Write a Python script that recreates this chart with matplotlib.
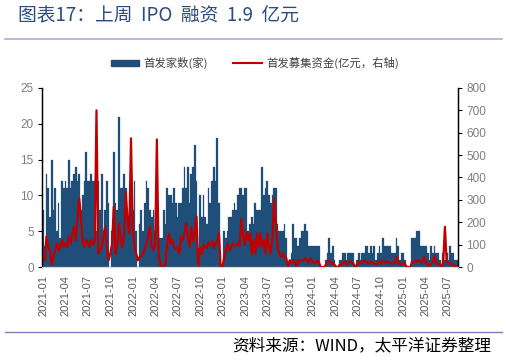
import numpy as np
import pandas as pd
import matplotlib
matplotlib.use('Agg')
import matplotlib.pyplot as plt
from matplotlib.lines import Line2D
from matplotlib.patches import Patch

plt.rcParams['font.family'] = ['Noto Sans CJK SC', 'DejaVu Sans']

# weekly data, first week 2021-01-01
start = pd.Timestamp('2021-01-01')

# number of IPOs per week (家)
ipo_count = [
    8, 3, 13, 11, 7, 15, 8, 11, 5, 9, 4, 12, 11,
    12, 11, 15, 11, 12, 13, 14, 12, 13, 8, 10, 12, 16,
    12, 12, 13, 12, 12, 5, 12, 8, 13, 5, 8, 12, 9,
    0, 5, 16, 9, 8, 21, 11, 11, 13, 11, 8, 5, 12,
    8, 12, 5, 0, 6, 8, 5, 9, 12, 11, 8, 7, 8,
    5, 8, 3, 4, 4, 8, 6, 11, 10, 10, 9, 11, 9,
    7, 9, 9, 11, 14, 11, 14, 9, 13, 14, 17, 12, 0,
    10, 7, 10, 7, 6, 11, 9, 12, 14, 12, 18, 9, 0,
    0, 5, 4, 5, 7, 7, 8, 9, 8, 10, 11, 11, 10,
    11, 11, 5, 6, 7, 6, 9, 8, 8, 8, 14, 10, 11,
    12, 10, 9, 10, 11, 11, 6, 5, 5, 5, 6, 4, 0,
    1, 2, 6, 4, 4, 3, 4, 5, 5, 6, 5, 3, 3,
    3, 3, 3, 3, 3, 0, 0, 0, 1, 2, 4, 2, 3,
    1, 0, 0, 1, 1, 2, 2, 1, 2, 2, 2, 2, 0,
    1, 2, 1, 2, 2, 3, 3, 2, 3, 2, 3, 1, 2,
    3, 2, 4, 3, 3, 3, 3, 2, 2, 2, 4, 3, 1,
    2, 2, 1, 0, 0, 0, 4, 4, 4, 5, 5, 3, 3,
    3, 3, 2, 1, 3, 2, 3, 2, 2, 1, 0, 2, 1,
    2, 1, 3, 2, 2, 1, 1,
]

# funds raised per week (亿元)
ipo_funds = [
    45, 30, 135, 90, 75, 10, 45, 75, 105, 75, 90, 120, 90,
    105, 90, 135, 105, 150, 180, 120, 225, 307, 225, 105, 90, 120,
    110, 90, 120, 100, 120, 700, 60, 75, 90, 135, 180, 90, 30,
    60, 100, 270, 60, 100, 195, 120, 90, 150, 335, 210, 150, 575,
    180, 90, 60, 30, 45, 50, 60, 80, 105, 140, 180, 90, 75,
    100, 570, 60, 10, 5, 0, 15, 105, 150, 105, 120, 90, 80,
    90, 60, 135, 120, 150, 195, 135, 90, 180, 115, 150, 225, 0,
    85, 60, 100, 90, 85, 110, 100, 115, 85, 105, 110, 150, 0,
    0, 40, 75, 105, 75, 85, 105, 95, 100, 105, 95, 215, 135,
    100, 155, 120, 150, 60, 120, 60, 150, 90, 150, 90, 120, 60,
    150, 90, 60, 135, 305, 195, 90, 60, 45, 60, 45, 40, 0,
    30, 20, 30, 20, 0, 30, 25, 30, 30, 40, 30, 20, 40,
    25, 20, 15, 30, 20, 0, 0, 0, 10, 20, 30, 15, 20,
    10, 0, 0, 10, 10, 20, 25, 10, 20, 25, 20, 15, 0,
    10, 25, 15, 20, 30, 25, 20, 15, 25, 20, 15, 10, 20,
    25, 15, 30, 25, 20, 25, 20, 15, 15, 20, 45, 20, 10,
    15, 20, 10, 0, 0, 0, 25, 20, 30, 25, 30, 20, 25,
    45, 20, 10, 5, 15, 20, 50, 15, 20, 10, 0, 20, 180,
    25, 15, 20, 10, 8, 5, 1.9,
]

tick_labels = ['2021-01', '2021-04', '2021-07', '2021-10', '2022-01', '2022-04',
               '2022-07', '2022-10', '2023-01', '2023-04', '2023-07', '2023-10',
               '2024-01', '2024-04', '2024-07', '2024-10', '2025-01', '2025-04',
               '2025-07']

navy = '#1F4E79'
red = '#C00000'
grey = '#595959'

x = np.arange(len(ipo_count))
tick_pos = [(pd.Timestamp(t + '-01') - start).days / 7 for t in tick_labels]

fig = plt.figure(figsize=(5.07, 3.6), dpi=100)
ax = fig.add_axes([0.0828, 0.2583, 0.8206, 0.4973])
ax2 = ax.twinx()

ax.bar(x, ipo_count, width=1.0, color=navy, edgecolor=navy, linewidth=0.2)
ax2.plot(x, ipo_funds, color=red, linewidth=1.6)

ax.set_xlim(-0.6, len(x) - 0.4)
ax.set_ylim(0, 25)
ax.set_yticks(range(0, 26, 5))
ax2.set_ylim(0, 800)
ax2.set_yticks(range(0, 801, 100))

ax.set_xticks(tick_pos)
ax.set_xticklabels(tick_labels, rotation=90, fontsize=8, color=grey,
                   family='Liberation Sans')
ax.tick_params(axis='x', length=0, pad=6)
ax.tick_params(axis='y', length=3, width=0.8, color='black', labelsize=8.5,
               labelcolor='#7F7F7F', pad=3)
ax2.tick_params(axis='y', length=3, width=0.8, color='black', labelsize=8.5,
                labelcolor='#7F7F7F', pad=3)
for lab in ax.get_yticklabels() + ax2.get_yticklabels():
    lab.set_family('Liberation Sans')

for a in (ax, ax2):
    a.spines['top'].set_visible(False)
    a.spines['bottom'].set_color('#D9D9D9')
    a.spines['left'].set_color('black')
    a.spines['right'].set_color('black')
    a.spines['left'].set_linewidth(0.9)
    a.spines['right'].set_linewidth(0.9)

# legend
handles = [Patch(facecolor=navy, edgecolor=navy),
           Line2D([0], [0], color=red, linewidth=1.5)]
fig.legend(handles, ['首发家数(家)', '首发募集资金(亿元，右轴)'],
           loc='center', bbox_to_anchor=(0.503, 0.825), ncol=2, frameon=False,
           fontsize=8.2, handlelength=2.5, handleheight=0.5, handletextpad=0.4,
           columnspacing=2.2, labelcolor='#404040')

# title and separators
fig.text(0.036, 0.955, '图表17：上周  IPO  融资  1.9  亿元', fontsize=13.5,
         color='#2B4C7E', ha='left', va='center')
fig.add_artist(Line2D([0.01, 0.99], [0.893, 0.893], transform=fig.transFigure,
                      color='#A9AED4', linewidth=1.2))
fig.add_artist(Line2D([0.01, 0.99], [0.078, 0.078], transform=fig.transFigure,
                      color='#7C80B5', linewidth=1.0))
fig.text(0.968, 0.04, '资料来源：WIND，太平洋证券整理', fontsize=12,
         color='black', ha='right', va='center', style='italic')

fig.savefig('out.png', dpi=100)
